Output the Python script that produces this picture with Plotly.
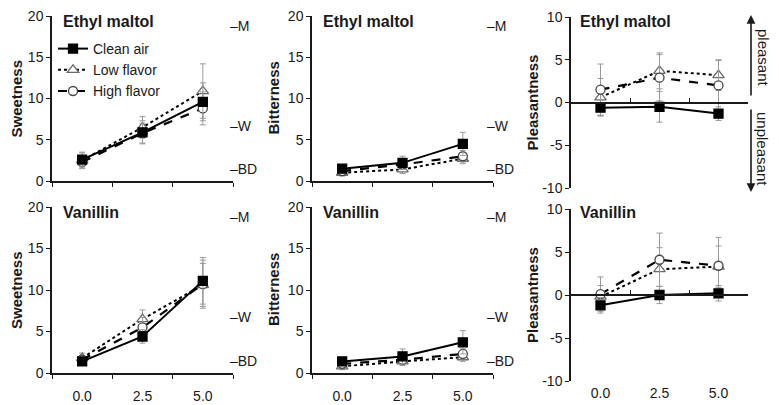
import plotly.graph_objects as go

W, H = 779, 405
OFF = 8  # page body margin of the written html

# ---------------- data ----------------
x_cats = ["0.0", "2.5", "5.0"]
series_names = ["Clean air", "Low flavor", "High flavor"]
compounds = ["Ethyl maltol", "Vanillin"]
measures = ["Sweetness", "Bitterness", "Pleasantness"]

# Ethyl maltol
sweet_em_clean = [2.6, 5.9, 9.6]
sweet_em_low = [2.5, 6.5, 10.9]
sweet_em_high = [2.3, 5.8, 8.8]
sweet_em_clean_err = [0.8, 1.4, 2.3]
sweet_em_low_err = [1.0, 1.3, 3.3]
sweet_em_high_err = [0.7, 1.2, 2.0]

bitter_em_clean = [1.5, 2.2, 4.5]
bitter_em_low = [1.0, 1.4, 2.7]
bitter_em_high = [1.2, 2.0, 3.0]
bitter_em_clean_err = [0.5, 0.8, 1.4]
bitter_em_low_err = [0.4, 0.5, 0.6]
bitter_em_high_err = [0.5, 0.6, 0.7]

pleas_em_clean = [-0.6, -0.5, -1.3]
pleas_em_low = [0.6, 3.7, 3.2]
pleas_em_high = [1.5, 2.9, 2.0]
pleas_em_clean_err = [0.9, 1.8, 0.8]
pleas_em_low_err = [2.2, 2.1, 1.8]
pleas_em_high_err = [3.0, 2.7, 2.9]

# Vanillin
sweet_v_clean = [1.4, 4.4, 11.1]
sweet_v_low = [1.8, 6.5, 10.6]
sweet_v_high = [1.6, 5.5, 10.7]
sweet_v_clean_err = [0.5, 0.8, 2.8]
sweet_v_low_err = [0.6, 1.1, 2.6]
sweet_v_high_err = [0.5, 1.2, 2.9]

bitter_v_clean = [1.4, 2.0, 3.7]
bitter_v_low = [0.8, 1.4, 1.9]
bitter_v_high = [1.1, 1.6, 2.3]
bitter_v_clean_err = [0.5, 0.9, 1.4]
bitter_v_low_err = [0.4, 0.5, 0.5]
bitter_v_high_err = [0.4, 0.5, 0.6]

pleas_v_clean = [-1.2, 0.0, 0.2]
pleas_v_low = [-0.2, 3.0, 3.3]
pleas_v_high = [0.1, 4.1, 3.4]
pleas_v_clean_err = [0.9, 1.0, 0.9]
pleas_v_low_err = [1.3, 2.5, 2.4]
pleas_v_high_err = [2.0, 3.1, 3.3]

glms_labels = ["\u2013M", "\u2013W", "\u2013BD"]
glms_values = [18.8, 6.7, 1.5]

pleas_ticks = [-10, -5, 0, 5, 10]
pleas_ticktext = ["-10", "-5", "0", "5", "10"]

panels = [
    # (row, col, measure, compound, values, errors)
    (0, 0, "Sweetness", "Ethyl maltol",
     [sweet_em_clean, sweet_em_low, sweet_em_high],
     [sweet_em_clean_err, sweet_em_low_err, sweet_em_high_err]),
    (0, 1, "Bitterness", "Ethyl maltol",
     [bitter_em_clean, bitter_em_low, bitter_em_high],
     [bitter_em_clean_err, bitter_em_low_err, bitter_em_high_err]),
    (0, 2, "Pleasantness", "Ethyl maltol",
     [pleas_em_clean, pleas_em_low, pleas_em_high],
     [pleas_em_clean_err, pleas_em_low_err, pleas_em_high_err]),
    (1, 0, "Sweetness", "Vanillin",
     [sweet_v_clean, sweet_v_low, sweet_v_high],
     [sweet_v_clean_err, sweet_v_low_err, sweet_v_high_err]),
    (1, 1, "Bitterness", "Vanillin",
     [bitter_v_clean, bitter_v_low, bitter_v_high],
     [bitter_v_clean_err, bitter_v_low_err, bitter_v_high_err]),
    (1, 2, "Pleasantness", "Vanillin",
     [pleas_v_clean, pleas_v_low, pleas_v_high],
     [pleas_v_clean_err, pleas_v_low_err, pleas_v_high_err]),
]

# ---------------- styling / layout geometry (pixels of the target picture) ----------------
FONT = "Liberation Sans, Arial, sans-serif"
INK = "#1a1a1a"
FW, FH = W - OFF, H - OFF


def fx(p):
    return (p - OFF) / FW


def fy(p):
    return 1 - (p - OFF) / FH


col_px = [(52, 233), (312, 493), (571, 748)]
row_px = {
    (0, 0): (16, 181), (0, 1): (16, 181), (0, 2): (17, 188),
    (1, 0): (207, 373), (1, 1): (207, 373), (1, 2): (209, 381),
}
title_x_px = [61, 321, 578]
title_y_px = [22, 213]
ytitle_x_px = [16, 273, 532]
glms_x_px = [228, 485]

styles = {
    "Clean air": dict(dash="solid", symbol="square", lc="black", fill="black", size=9, width=2),
    "Low flavor": dict(dash="dot", symbol="triangle-up", lc="#6a6a6a", fill="white", size=10, width=2),
    "High flavor": dict(dash="dash", symbol="circle", lc="#444444", fill="white", size=9, width=2.2),
}
draw_order = [1, 2, 0]

fig = go.Figure()
layout = dict(
    template="none",
    width=FW, height=FH,
    margin=dict(l=0, r=0, t=0, b=0, pad=0, autoexpand=False),
    paper_bgcolor="white", plot_bgcolor="rgba(0,0,0,0)",
    font=dict(family=FONT, size=14, color=INK),
    showlegend=True,
    legend=dict(x=fx(53), y=fy(33), xanchor="left", yanchor="top",
                bgcolor="rgba(0,0,0,0)", borderwidth=0,
                font=dict(size=14, family=FONT, color=INK),
                itemwidth=30, tracegroupgap=3, traceorder="normal"),
)
annotations = []

for idx, (r, c, measure, compound, vals, errs) in enumerate(panels, start=1):
    xa = f"x{idx}"
    ya = f"y{idx}"
    x0, x1 = col_px[c]
    y0, y1 = row_px[(r, c)]
    xdom = [fx(x0), fx(x1)]
    ydom = [fy(y1), fy(y0)]
    is_pleas = (c == 2)

    for k in draw_order:
        name = series_names[k]
        s = styles[name]
        fig.add_trace(go.Scatter(
            x=x_cats, y=vals[k], name=name, xaxis=xa, yaxis=ya,
            mode="lines+markers",
            line=dict(color="black", width=s["width"], dash=s["dash"]),
            marker=dict(symbol=s["symbol"], size=s["size"], color=s["fill"],
                        line=dict(color=s["lc"], width=1.3)),
            error_y=dict(type="data", array=errs[k], visible=True,
                         color="#9a9a9a", thickness=1, width=3),
            showlegend=(idx == 1), legendrank=k + 1, legendgroup=name,
            cliponaxis=False, hoverinfo="skip",
        ))

    xkey = "xaxis" if idx == 1 else f"xaxis{idx}"
    ykey = "yaxis" if idx == 1 else f"yaxis{idx}"

    xaxis = dict(
        domain=xdom, anchor=ya, type="category", automargin=False,
        categoryorder="array", categoryarray=x_cats,
        range=[-0.5, 2.5], showgrid=False, zeroline=False,
        tickfont=dict(size=14, family=FONT, color=INK),
        ticklabeloverflow="allow", fixedrange=True,
    )
    if is_pleas:
        xaxis.update(showline=False, ticks="", showticklabels=(r == 1),
                     ticklabelstandoff=2)
    else:
        xaxis.update(showline=True, linecolor=INK, linewidth=1.5,
                     ticks="outside", tickson="boundaries", ticklen=4,
                     tickwidth=1.2, tickcolor=INK,
                     showticklabels=(r == 1), ticklabelstandoff=9)
    layout[xkey] = xaxis

    yaxis = dict(
        domain=ydom, anchor=xa, showgrid=False, zeroline=False, automargin=False,
        showline=True, linecolor=INK, linewidth=1.5,
        ticks="outside", ticklen=4, tickwidth=1.2, tickcolor=INK,
        tickfont=dict(size=14, family=FONT, color=INK),
        ticklabeloverflow="allow", fixedrange=True,
    )
    if is_pleas:
        yaxis.update(range=[-10, 10], tickmode="array",
                     tickvals=pleas_ticks, ticktext=pleas_ticktext)
    else:
        yaxis.update(range=[0, 20], tickmode="array", tickvals=[0, 5, 10, 15, 20])
    layout[ykey] = yaxis

    # zero-crossing x axis for pleasantness panels
    if is_pleas:
        ov = 7 if r == 0 else 8
        layout[f"xaxis{ov}"] = dict(
            overlaying=xa, anchor="free", position=(ydom[0] + ydom[1]) / 2,
            range=[-0.5, 2.5], showgrid=False, zeroline=False, automargin=False,
            showline=True, linecolor=INK, linewidth=1.5,
            ticks="inside", tickmode="array", tickvals=[0.5, 1.5, 2.5],
            ticklen=4, tickwidth=1.2, tickcolor=INK,
            showticklabels=False, fixedrange=True,
        )
        fig.add_trace(go.Scatter(x=[0], y=[0], xaxis=f"x{ov}", yaxis=ya,
                                 mode="markers", marker=dict(opacity=0),
                                 showlegend=False, hoverinfo="skip"))

    # panel title
    annotations.append(dict(
        text=f"<b>{compound}</b>", x=fx(title_x_px[c]), y=fy(title_y_px[r]),
        xref="paper", yref="paper", xanchor="left", yanchor="middle",
        showarrow=False, font=dict(size=16, family=FONT, color=INK)))
    # y axis title
    annotations.append(dict(
        text=f"<b>{measure}</b>", x=fx(ytitle_x_px[c]), y=fy((y0 + y1) / 2),
        xref="paper", yref="paper", xanchor="center", yanchor="middle",
        textangle=-90, showarrow=False, font=dict(size=15, family=FONT, color=INK)))
    # gLMS labels
    if not is_pleas:
        for lab, val in zip(glms_labels, glms_values):
            annotations.append(dict(
                text=lab, x=fx(glms_x_px[c]), y=val, xref="paper", yref=ya,
                xanchor="left", yanchor="middle", showarrow=False,
                font=dict(size=14, family=FONT, color=INK)))

# pleasant / unpleasant arrows
annotations.append(dict(text="", x=fx(751), y=fy(15), xref="paper", yref="paper",
                        ax=0, ay=82, showarrow=True, arrowhead=2, arrowsize=1.1,
                        arrowwidth=1.6, arrowcolor=INK))
annotations.append(dict(text="", x=fx(751), y=fy(192), xref="paper", yref="paper",
                        ax=0, ay=-84, showarrow=True, arrowhead=2, arrowsize=1.1,
                        arrowwidth=1.6, arrowcolor=INK))
annotations.append(dict(text="pleasant", x=fx(763), y=fy(58), xref="paper", yref="paper",
                        textangle=90, showarrow=False, xanchor="center", yanchor="middle",
                        font=dict(size=15, family=FONT, color=INK)))
annotations.append(dict(text="unpleasant", x=fx(763), y=fy(149), xref="paper", yref="paper",
                        textangle=90, showarrow=False, xanchor="center", yanchor="middle",
                        font=dict(size=15, family=FONT, color=INK)))

layout["annotations"] = annotations
fig.update_layout(**layout)
fig.write_html("out.html")
